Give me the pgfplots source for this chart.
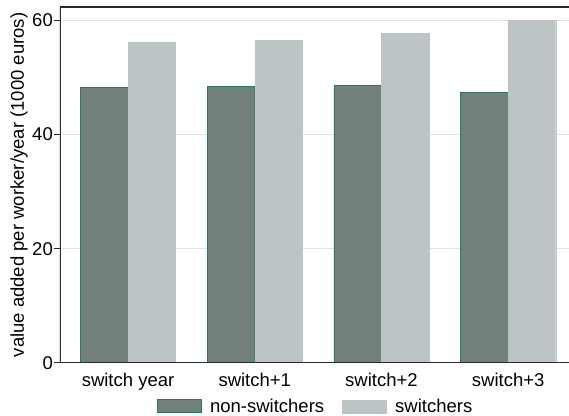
\documentclass[border=0pt]{standalone}
\usepackage{pgfplots}
\pgfplotsset{compat=1.18}
\usepackage{fontspec}
\setmainfont{Liberation Sans}
\definecolor{nsw}{HTML}{71807A}
\definecolor{nswedge}{HTML}{2D7A55}
\definecolor{sw}{HTML}{BCC4C5}
\definecolor{axc}{HTML}{2B2B2B}
\definecolor{gridc}{HTML}{E3E3E3}
\newcommand{\ff}{\fontsize{18.5}{22}\selectfont}
\begin{document}
\begin{tikzpicture}
\begin{axis}[
  scale only axis, width=509pt, height=356pt,
  xmin=0.463, xmax=4.48, ymin=0, ymax=62.3,
  ybar=0pt, bar width=47.5pt,
  axis line style={draw=none},
  xtick={1,2,3,4},
  xticklabels={switch year, switch+1, switch+2, switch+3},
  x tick style={draw=none},
  xtick pos=bottom, ytick pos=left,
  ytick={0,20,40,60},
  y tick style={axc, line width=1pt},
  tick align=outside, major tick length=6pt,
  ymajorgrids, grid style={gridc, line width=1pt},
  tick label style={font=\ff, /pgf/number format/assume math mode=true},
  yticklabel style={inner sep=1pt},
  xticklabel style={inner sep=0pt, yshift=-4pt},
  ylabel={value added per worker/year (1000 euros)},
  ylabel style={font=\ff, at={(axis description cs:-0.063,0.5)}, anchor=south, inner sep=0pt},
  legend columns=2,
  legend style={draw=none, fill=none, font=\ff,
    at={(axis description cs:0.5,-0.121)}, anchor=center,
    /tikz/every even column/.append style={column sep=18pt},
    nodes={inner sep=0pt}},
  legend cell align=left,
  legend image code/.code={\draw[#1] (0pt,-6.5pt) rectangle (44pt,6.5pt); \path[draw=none, fill=none] (0pt,0pt) -- (53pt,0pt);},
]
\addplot[fill=nsw, draw=nswedge, line width=0.8pt] coordinates {(1,48.2) (2,48.4) (3,48.5) (4,47.4)};
\addplot[fill=sw, draw=sw, line width=0.1pt] coordinates {(1,56.2) (2,56.5) (3,57.7) (4,60.0)};
\legend{non-switchers, switchers}
\coordinate (SW) at (rel axis cs:0,0);
\coordinate (NE) at (rel axis cs:1,1);
\draw[axc, line width=1.2pt] (rel axis cs:0,1) -- (rel axis cs:0,0) -- (rel axis cs:1,0);
\draw[axc, line width=1.2pt] (rel axis cs:0,1) -- (rel axis cs:1,1);
\end{axis}
\pgfresetboundingbox
\path[use as bounding box] ([shift={(-60pt,-53pt)}]SW) rectangle ([shift={(0pt,7pt)}]NE);
\end{tikzpicture}
\end{document}
